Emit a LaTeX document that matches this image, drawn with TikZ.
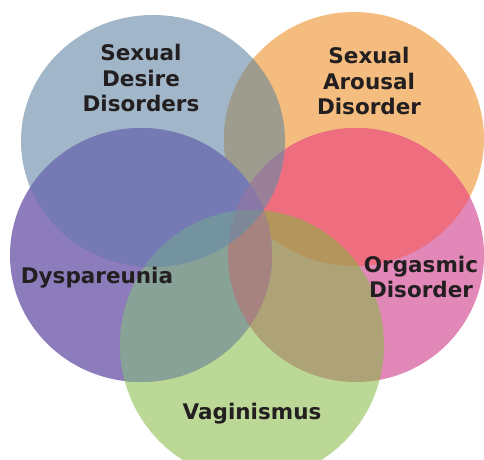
\documentclass[tikz,border=0pt]{standalone}
\usepackage{fontspec}
\setmainfont{DejaVu Sans}
\definecolor{cBlue}{RGB}{103,139,168}
\definecolor{cOrange}{RGB}{239,159,71}
\definecolor{cPurple}{RGB}{91,69,159}
\definecolor{cPink}{RGB}{214,86,155}
\definecolor{cGreen}{RGB}{133,184,66}
\definecolor{cRed}{RGB}{238,110,128}
\definecolor{cGP}{RGB}{136,162,151}
\definecolor{cMauve}{RGB}{166,131,126}
\definecolor{cBPunder}{RGB}{145,95,200}
\definecolor{cBOunder}{RGB}{250,184,100}
\definecolor{cText}{RGB}{35,31,32}
\begin{document}
\begin{tikzpicture}[x=1pt,y=-1pt,
  disc/.style={fill=#1, fill opacity=0.7, draw=none},
  lab/.style={text=cText, font=\fontsize{21.5}{25.5}\selectfont\bfseries, align=center, inner sep=0pt}]
\useasboundingbox (0,0) rectangle (484,459);
% circles
\path[disc=cOrange] (354,139) ellipse [x radius=130pt, y radius=127pt];
\begin{scope}
  \clip (354,139) ellipse [x radius=130pt, y radius=127pt];
  \fill[cBOunder] (153,141) ellipse [x radius=132pt, y radius=126pt];
\end{scope}
\path[disc=cPink] (356,255) ellipse [x radius=128pt, y radius=127pt];
\begin{scope}
  \clip (354,139) ellipse [x radius=130pt, y radius=127pt];
  \fill[cRed] (356,255) ellipse [x radius=128pt, y radius=127pt];
\end{scope}
\path[disc=cPurple] (141,255) ellipse [x radius=131pt, y radius=127pt];
\begin{scope}
  \clip (141,255) ellipse [x radius=131pt, y radius=127pt];
  \fill[cBPunder] (153,141) ellipse [x radius=132pt, y radius=126pt];
  \path[disc=cPink] (356,255) ellipse [x radius=128pt, y radius=127pt];
\end{scope}
\path[fill=cGreen, fill opacity=0.55] (252,345) ellipse [x radius=132pt, y radius=135pt];
\begin{scope}
  \clip (141,255) ellipse [x radius=131pt, y radius=127pt];
  \fill[cGP] (252,345) ellipse [x radius=132pt, y radius=135pt];
  \clip (356,255) ellipse [x radius=128pt, y radius=127pt];
  \fill[cMauve] (252,345) ellipse [x radius=132pt, y radius=135pt];
\end{scope}
\path[fill=cBlue, fill opacity=0.62] (153,141) ellipse [x radius=132pt, y radius=126pt];
% labels
\node[lab] (desire) at (141,78) {Sexual\\Desire\\Disorders};
\node[lab] (arousal) at (369,81) {Sexual\\Arousal\\Disorder};
\node[lab, anchor=base] (dysp) at (97,283) {Dyspareunia};
\node[lab] (orgasm) at (421,277) {Orgasmic\\Disorder};
\node[lab, anchor=base] (vagin) at (252,419) {Vaginismus};
\end{tikzpicture}
\end{document}
